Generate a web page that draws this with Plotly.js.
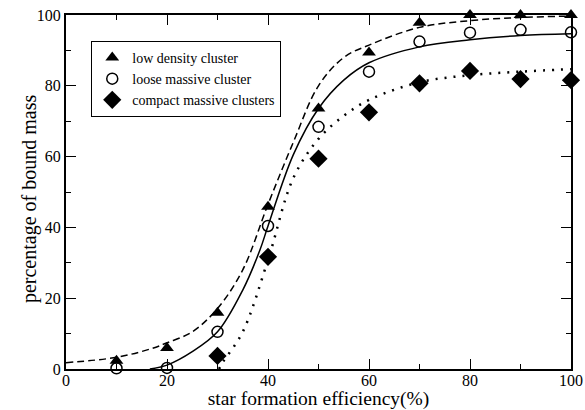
<!DOCTYPE html>
<html>
<head>
<meta charset="utf-8">
<script src="https://cdn.plot.ly/plotly-3.0.1.min.js"></script>
<style>html,body{margin:0;padding:0;background:#fff;}#chart{width:585px;height:410px;}</style>
</head>
<body>
<div id="chart"></div>
<script>
// measured points
var sfe = [10, 20, 30, 40, 50, 60, 70, 80, 90, 100];
var lowDensity = [2.3, 5.9, 15.9, 45.8, 73.6, 89.4, 97.8, 100, 100, 100];
var looseMassive = [0.2, 0.3, 10.5, 40.4, 68.4, 84.0, 92.5, 95.0, 95.8, 95.1];
var sfeCompact = [30, 40, 50, 60, 70, 80, 90, 100];
var compactMassive = [3.7, 31.7, 59.4, 72.5, 80.7, 84.2, 81.9, 81.6];

// fitted curves
var fitLowX = [0, 10, 17, 20, 25, 30, 35, 40, 45, 50, 55, 60, 70, 80, 90, 100];
var fitLowY = [1.8, 3.3, 5.8, 7.4, 10.5, 17.1, 28, 46.5, 64, 80, 88, 91.5, 96.5, 98.4, 99.3, 99.7];
var fitLooseX = [16.6, 20, 25, 30, 35, 38.4, 40, 45, 50, 55, 60, 70, 80, 90, 100];
var fitLooseY = [0, 1.1, 4.9, 10.5, 22.3, 33.6, 40.4, 60.5, 73.6, 81.6, 86.5, 91, 93, 94.2, 94.7];
var fitCompactX = [30.3, 31, 35, 40, 45, 50, 55, 60, 70, 80, 90, 100];
var fitCompactY = [0, 1.8, 10.5, 30.8, 53.9, 65, 71.5, 76, 81, 83, 84, 84.7];

var legendNames = ['low density cluster', 'loose massive cluster', 'compact massive clusters'];
var xTitle = 'star formation efficiency(%)';
var yTitle = 'percentage of bound mass';

var serif = '"Liberation Serif", "Times New Roman", Times, serif';

var traces = [
  {x: fitLowX, y: fitLowY, mode: 'lines', line: {color: '#000', width: 1.5, dash: '7px,4px', shape: 'spline', smoothing: 1}, showlegend: false, hoverinfo: 'skip'},
  {x: fitLooseX, y: fitLooseY, mode: 'lines', line: {color: '#000', width: 1.5, shape: 'spline', smoothing: 1}, showlegend: false, hoverinfo: 'skip'},
  {x: fitCompactX, y: fitCompactY, mode: 'lines', line: {color: '#000', width: 2.5, dash: '2px,7px', shape: 'spline', smoothing: 1}, showlegend: false, hoverinfo: 'skip'},
  {x: sfe, y: lowDensity, mode: 'markers', name: legendNames[0], marker: {symbol: 'triangle-up', size: 12, color: '#000'}, cliponaxis: false},
  {x: sfe, y: looseMassive, mode: 'markers', name: legendNames[1], marker: {symbol: 'circle-open', size: 11, color: '#000', line: {width: 1.5, color: '#000'}}, cliponaxis: false},
  {x: sfeCompact, y: compactMassive, mode: 'markers', name: legendNames[2], marker: {symbol: 'diamond', size: 14, color: '#000'}, cliponaxis: false}
];

var axisCommon = {
  range: [0, 100], dtick: 20, tick0: 0,
  ticks: 'inside', ticklen: 10, tickwidth: 1, tickcolor: '#000',
  minor: {dtick: 10, ticks: 'inside', ticklen: 5, tickwidth: 1, tickcolor: '#000'},
  mirror: 'allticks', showline: true, linewidth: 2, linecolor: '#000',
  showgrid: false, zeroline: false,
  tickfont: {family: serif, size: 16, color: '#000'}
};

var layout = {
  width: 585, height: 410,
  margin: {l: 66, r: 14, t: 15, b: 41},
  paper_bgcolor: '#fff', plot_bgcolor: '#fff',
  font: {family: serif, color: '#000'},
  xaxis: Object.assign({}, axisCommon, {ticklabelstandoff: -4, title: {text: xTitle, font: {family: serif, size: 19.5, color: '#000'}, standoff: 4}}),
  yaxis: Object.assign({}, axisCommon, {ticklabelstandoff: 0}),
  annotations: [
    {text: yTitle, xref: 'paper', yref: 'paper', x: -0.0733, y: 0.48, xanchor: 'center', yanchor: 'middle',
     textangle: -90, showarrow: false, font: {family: serif, size: 20, color: '#000'}}
  ],
  legend: {x: 0.05, y: 0.927, xanchor: 'left', yanchor: 'top', bgcolor: '#fff', bordercolor: '#000', borderwidth: 1,
           font: {family: serif, size: 14, color: '#000'}, tracegroupgap: 0},
  showlegend: true
};

Plotly.newPlot('chart', traces, layout, {staticPlot: true, displayModeBar: false});
</script>
</body>
</html>
